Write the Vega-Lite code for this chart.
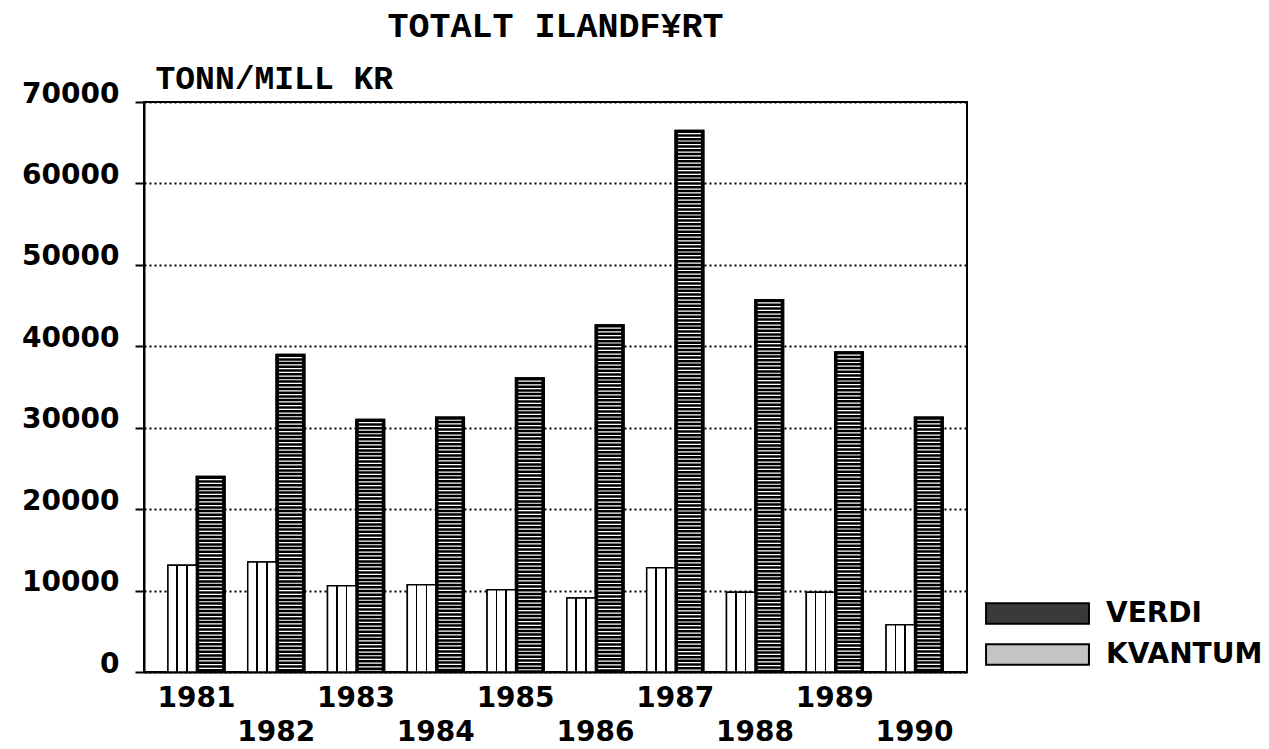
{
  "$schema": "https://vega.github.io/schema/vega-lite/v6.json",
  "width": 823,
  "height": 570,
  "autosize": "none",
  "padding": {"left": 144, "top": 102, "right": 302, "bottom": 77},
  "background": "white",
  "config": {
    "view": {"stroke": "black", "strokeWidth": 2},
    "font": "Liberation Mono"
  },
  "title": {
    "text": "TOTALT ILANDF¥RT",
    "font": "Liberation Mono",
    "fontSize": 35,
    "fontWeight": "bold",
    "color": "black",
    "anchor": "middle",
    "frame": "group",
    "baseline": "alphabetic",
    "offset": -10
  },
  "data": {
    "values": [
      {"year": 1981, "series": "KVANTUM", "value": 13100},
      {"year": 1981, "series": "VERDI", "value": 24000},
      {"year": 1982, "series": "KVANTUM", "value": 13500},
      {"year": 1982, "series": "VERDI", "value": 39000},
      {"year": 1983, "series": "KVANTUM", "value": 10600},
      {"year": 1983, "series": "VERDI", "value": 31000},
      {"year": 1984, "series": "KVANTUM", "value": 10700},
      {"year": 1984, "series": "VERDI", "value": 31300},
      {"year": 1985, "series": "KVANTUM", "value": 10100},
      {"year": 1985, "series": "VERDI", "value": 36100},
      {"year": 1986, "series": "KVANTUM", "value": 9100},
      {"year": 1986, "series": "VERDI", "value": 42600},
      {"year": 1987, "series": "KVANTUM", "value": 12800},
      {"year": 1987, "series": "VERDI", "value": 66500},
      {"year": 1988, "series": "KVANTUM", "value": 9800},
      {"year": 1988, "series": "VERDI", "value": 45700},
      {"year": 1989, "series": "KVANTUM", "value": 9800},
      {"year": 1989, "series": "VERDI", "value": 39300},
      {"year": 1990, "series": "KVANTUM", "value": 5800},
      {"year": 1990, "series": "VERDI", "value": 31300}
    ]
  },
  "encoding": {
    "x": {
      "field": "year",
      "type": "ordinal",
      "scale": {"paddingInner": 0.286, "paddingOuter": 0.3},
      "axis": {
        "title": null,
        "labelAngle": 0,
        "labelFont": "DejaVu Sans",
        "labelFontSize": 28,
        "labelFontWeight": "bold",
        "labelColor": "black",
        "labelBaseline": "top",
        "labelPadding": 12,
        "labelLineHeight": 34,
        "labelExpr": "datum.value % 2 === 0 ? ['', datum.label] : datum.label",
        "ticks": false,
        "domainColor": "black",
        "domainWidth": 2,
        "labelOverlap": false
      }
    },
    "xOffset": {"field": "series", "type": "nominal", "sort": ["KVANTUM", "VERDI"]},
    "y": {
      "field": "value",
      "type": "quantitative",
      "scale": {"domain": [0, 70000]},
      "axis": {
        "title": "TONN/MILL KR",
        "titleAngle": 0,
        "titleAlign": "left",
        "titleBaseline": "alphabetic",
        "titleX": 11,
        "titleY": -14,
        "titleFont": "Liberation Mono",
        "titleFontSize": 33,
        "titleFontWeight": "bold",
        "titleColor": "black",
        "values": [0, 10000, 20000, 30000, 40000, 50000, 60000, 70000],
        "format": "d",
        "labelFont": "DejaVu Sans",
        "labelFontSize": 28,
        "labelFontWeight": "bold",
        "labelColor": "black",
        "labelBaseline": "alphabetic",
        "labelPadding": 16,
        "labelFlush": false,
        "labelOverlap": false,
        "tickSize": 9,
        "tickColor": "black",
        "tickWidth": 2,
        "domainColor": "black",
        "domainWidth": 2,
        "grid": true,
        "gridColor": "black",
        "gridDash": [2, 3],
        "gridWidth": 2
      }
    }
  },
  "layer": [
    {
      "mark": {"type": "bar", "stroke": "black", "strokeWidth": 1.5, "opacity": 1},
      "encoding": {
        "color": {
          "field": "series",
          "type": "nominal",
          "scale": {"domain": ["VERDI", "KVANTUM"], "range": ["#3a3a3a", "#c4c4c4"]},
          "legend": {
            "title": null,
            "orient": "none",
            "legendX": 875,
            "legendY": 493,
            "labelFont": "DejaVu Sans",
            "labelFontSize": 28,
            "labelFontWeight": "bold",
            "labelColor": "black",
            "labelOffset": 50,
            "symbolSize": 1176,
            "symbolType": "M-3,-0.6H3V0.6H-3Z",
            "symbolStrokeColor": "black",
            "symbolStrokeWidth": 2,
            "symbolOpacity": 1,
            "rowPadding": 8
          }
        }
      }
    },
    {
      "transform": [{"filter": "datum.series === 'VERDI'"}],
      "mark": {"type": "bar", "stroke": "black", "strokeWidth": 1.5, "fill": "black"},
      "encoding": {}
    },
    {
      "transform": [{"filter": "datum.series === 'KVANTUM'"}],
      "mark": {
        "type": "bar",
        "stroke": "black",
        "strokeWidth": 1.5,
        "fill": {
          "gradient": "linear", "x1": 0, "y1": 0, "x2": 1, "y2": 0,
          "stops": [
            {"offset": 0, "color": "white"}, {"offset": 0.3, "color": "white"},
            {"offset": 0.3, "color": "black"}, {"offset": 0.355, "color": "black"},
            {"offset": 0.355, "color": "white"}, {"offset": 0.64, "color": "white"},
            {"offset": 0.64, "color": "black"}, {"offset": 0.695, "color": "black"},
            {"offset": 0.695, "color": "white"}, {"offset": 1, "color": "white"}
          ]
        }
      },
      "encoding": {}
    },
    {
      "transform": [{"filter": "datum.series === 'VERDI'"}],
      "mark": {
        "type": "rule",
        "color": "white",
        "strokeWidth": 23,
        "strokeDash": [1.2, 2.5],
        "strokeDashOffset": 1.2,
        "opacity": 1
      },
      "encoding": {
        "y2": {"datum": 150}
      }
    }
  ]
}
